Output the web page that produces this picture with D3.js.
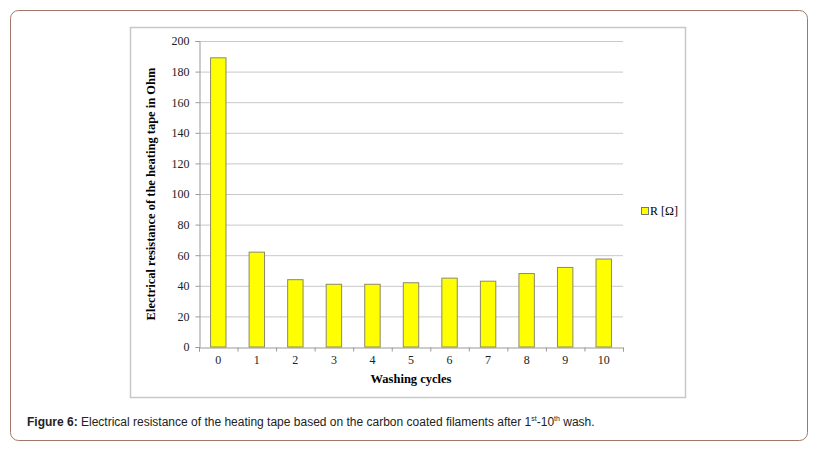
<!DOCTYPE html>
<html><head><meta charset="utf-8">
<script src="https://cdn.jsdelivr.net/npm/d3@7"></script>
<style>body{margin:0;background:#fff;}</style>
</head><body>
<svg id="chart" width="829" height="450"></svg>
<script>
var cycles = ["0","1","2","3","4","5","6","7","8","9","10"];
var resistance = [189, 62, 44, 41, 41, 42, 45, 43, 48, 52, 57.5];
var yTicks = [0,20,40,60,80,100,120,140,160,180,200];

var svg = d3.select("#chart");
var serif = "'Liberation Serif','DejaVu Serif',serif";

// outer card
svg.append("rect").attr("x",10.5).attr("y",10.5).attr("width",797).attr("height",430)
  .attr("rx",8).attr("fill","#fff").attr("stroke","#a0786a").attr("stroke-width",1);

// chart frame
svg.append("rect").attr("x",130.5).attr("y",27.5).attr("width",555).attr("height",370)
  .attr("fill","#fff").attr("stroke","#c8c8c8").attr("stroke-width",1.5);

var x = d3.scaleBand().domain(cycles).range([199,623]).paddingInner(0.6).paddingOuter(0.3);
var y = d3.scaleLinear().domain([0,200]).range([347,41]);

// gridlines
svg.append("g").selectAll("line").data(yTicks.slice(1)).enter().append("line")
  .attr("x1",199).attr("x2",623).attr("y1",d=>y(d)+0.5).attr("y2",d=>y(d)+0.5)
  .attr("stroke","#c8c8c8");

var yAxis = svg.append("g").attr("transform","translate(199.5,0)")
  .call(d3.axisLeft(y).tickValues(yTicks).tickSize(4).tickPadding(6));
var xAxis = svg.append("g").attr("transform","translate(0,347.5)")
  .call(d3.axisBottom(d3.scaleLinear().domain([0,11]).range([199,623])).ticks(11).tickSize(4).tickFormat(""));
svg.append("g").attr("transform","translate(0,347)")
  .call(d3.axisBottom(x).tickSize(0).tickPadding(8))
  .call(g=>g.select(".domain").remove());
svg.selectAll(".domain, .tick line").attr("stroke","#999");
svg.selectAll(".tick text").attr("font-family",serif).attr("font-size",12).attr("fill","#222");

svg.append("g").selectAll("rect").data(resistance).enter().append("rect")
  .attr("x",(d,i)=>x(cycles[i])).attr("width",x.bandwidth())
  .attr("y",d=>y(d)).attr("height",d=>y(0)-y(d))
  .attr("fill","#ffff00").attr("stroke","#8a8a6a").attr("stroke-width",1);

svg.append("text").attr("x",411).attr("y",383).attr("text-anchor","middle")
  .attr("font-family",serif).attr("font-weight","bold").attr("font-size",12.5).text("Washing cycles");
svg.append("text").attr("transform","translate(155,194) rotate(-90)").attr("text-anchor","middle")
  .attr("font-family",serif).attr("font-weight","bold").attr("font-size",12.5)
  .text("Electrical resistance of the heating tape in Ohm");

// legend
svg.append("rect").attr("x",641.5).attr("y",207.5).attr("width",7).attr("height",7)
  .attr("fill","#ffff00").attr("stroke","#777");
svg.append("text").attr("x",650).attr("y",215).attr("font-family",serif).attr("font-size",12)
  .text("R [Ω]");

// caption
var cap = svg.append("text").attr("x",27).attr("y",426).attr("font-family","'Liberation Sans',Arial,sans-serif")
  .attr("font-size",12).attr("fill","#222");
cap.append("tspan").attr("font-weight","bold").text("Figure 6:");
cap.append("tspan").text(" Electrical resistance of the heating tape based on the carbon coated filaments after 1");
cap.append("tspan").attr("font-size",7).attr("dy",-5).text("st");
cap.append("tspan").attr("dy",5).text("-10");
cap.append("tspan").attr("font-size",7).attr("dy",-5).text("th");
cap.append("tspan").attr("dy",5).text(" wash.");
</script>
</body></html>
